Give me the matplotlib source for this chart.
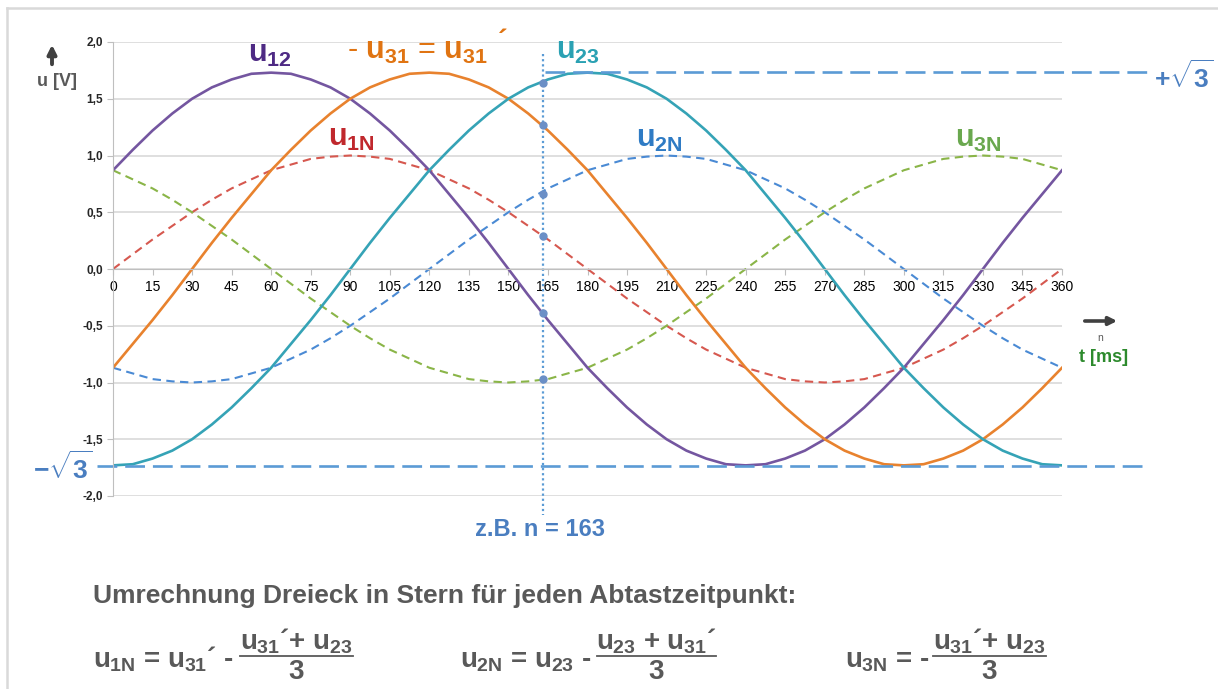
import matplotlib
matplotlib.use('Agg')
import matplotlib.pyplot as plt
from matplotlib import font_manager
from matplotlib.patches import FancyArrowPatch
from matplotlib.lines import Line2D

W, H = 1218, 689
names = {f.name for f in font_manager.fontManager.ttflist}
NARROW = 'Liberation Sans Narrow' if 'Liberation Sans Narrow' in names else 'Liberation Sans'

plt.rcParams['font.family'] = ['Liberation Sans', 'DejaVu Sans']
plt.rcParams['mathtext.fontset'] = 'custom'
for k in ('rm', 'it', 'bf', 'sf'):
    plt.rcParams['mathtext.' + k] = NARROW + ':bold'

# ---------------- data (every 7.5 samples) ----------------
n = [0, 7.5, 15, 22.5, 30, 37.5, 45, 52.5, 60, 67.5, 75, 82.5, 90,
     97.5, 105, 112.5, 120, 127.5, 135, 142.5, 150, 157.5, 165, 172.5, 180,
     187.5, 195, 202.5, 210, 217.5, 225, 232.5, 240, 247.5, 255, 262.5, 270,
     277.5, 285, 292.5, 300, 307.5, 315, 322.5, 330, 337.5, 345, 352.5, 360]
u12 = [0.87, 1.05, 1.22, 1.37, 1.50, 1.60, 1.67, 1.72, 1.73, 1.72, 1.67, 1.60, 1.50,
       1.37, 1.22, 1.05, 0.87, 0.66, 0.45, 0.23, 0.00, -0.23, -0.45, -0.66, -0.87,
       -1.05, -1.22, -1.37, -1.50, -1.60, -1.67, -1.72, -1.73, -1.72, -1.67, -1.60, -1.50,
       -1.37, -1.22, -1.05, -0.87, -0.66, -0.45, -0.23, 0.00, 0.23, 0.45, 0.66, 0.87]
u31p = [-0.87, -0.66, -0.45, -0.23, 0.00, 0.23, 0.45, 0.66, 0.87, 1.05, 1.22, 1.37, 1.50,
        1.60, 1.67, 1.72, 1.73, 1.72, 1.67, 1.60, 1.50, 1.37, 1.22, 1.05, 0.87,
        0.66, 0.45, 0.23, 0.00, -0.23, -0.45, -0.66, -0.87, -1.05, -1.22, -1.37, -1.50,
        -1.60, -1.67, -1.72, -1.73, -1.72, -1.67, -1.60, -1.50, -1.37, -1.22, -1.05, -0.87]
u23 = [-1.73, -1.72, -1.67, -1.60, -1.50, -1.37, -1.22, -1.05, -0.87, -0.66, -0.45, -0.23, 0.00,
       0.23, 0.45, 0.66, 0.87, 1.05, 1.22, 1.37, 1.50, 1.60, 1.67, 1.72, 1.73,
       1.72, 1.67, 1.60, 1.50, 1.37, 1.22, 1.05, 0.87, 0.66, 0.45, 0.23, 0.00,
       -0.23, -0.45, -0.66, -0.87, -1.05, -1.22, -1.37, -1.50, -1.60, -1.67, -1.72, -1.73]
u1N = [0.00, 0.13, 0.26, 0.38, 0.50, 0.61, 0.71, 0.79, 0.87, 0.92, 0.97, 0.99, 1.00,
       0.99, 0.97, 0.92, 0.87, 0.79, 0.71, 0.61, 0.50, 0.38, 0.26, 0.13, 0.00,
       -0.13, -0.26, -0.38, -0.50, -0.61, -0.71, -0.79, -0.87, -0.92, -0.97, -0.99, -1.00,
       -0.99, -0.97, -0.92, -0.87, -0.79, -0.71, -0.61, -0.50, -0.38, -0.26, -0.13, 0.00]
u2N = [-0.87, -0.92, -0.97, -0.99, -1.00, -0.99, -0.97, -0.92, -0.87, -0.79, -0.71, -0.61, -0.50,
       -0.38, -0.26, -0.13, 0.00, 0.13, 0.26, 0.38, 0.50, 0.61, 0.71, 0.79, 0.87,
       0.92, 0.97, 0.99, 1.00, 0.99, 0.97, 0.92, 0.87, 0.79, 0.71, 0.61, 0.50,
       0.38, 0.26, 0.13, 0.00, -0.13, -0.26, -0.38, -0.50, -0.61, -0.71, -0.79, -0.87]
u3N = [0.87, 0.79, 0.71, 0.61, 0.50, 0.38, 0.26, 0.13, 0.00, -0.13, -0.26, -0.38, -0.50,
       -0.61, -0.71, -0.79, -0.87, -0.92, -0.97, -0.99, -1.00, -0.99, -0.97, -0.92, -0.87,
       -0.79, -0.71, -0.61, -0.50, -0.38, -0.26, -0.13, 0.00, 0.13, 0.26, 0.38, 0.50,
       0.61, 0.71, 0.79, 0.87, 0.92, 0.97, 0.99, 1.00, 0.99, 0.97, 0.92, 0.87]
n_sample = 163
sample_vals = [1.64, 1.27, 0.66, 0.29, -0.39, -0.97]
sqrt3 = 1.732
xticks = [0, 15, 30, 45, 60, 75, 90, 105, 120, 135, 150, 165, 180,
          195, 210, 225, 240, 255, 270, 285, 300, 315, 330, 345, 360]
xtick_labels = [str(v) for v in xticks]
yticks = [-2.0, -1.5, -1.0, -0.5, 0.0, 0.5, 1.0, 1.5, 2.0]
ytick_labels = ['-2,0', '-1,5', '-1,0', '-0,5', '0,0', '0,5', '1,0', '1,5', '2,0']

# ---------------- figure ----------------
fig = plt.figure(figsize=(W / 100, H / 100), dpi=100)


def fx(x):
    return x / W


def fy(y):
    return 1 - y / H


# light frame (top and left edges only)
fig.add_artist(Line2D([fx(7), fx(1218)], [fy(8), fy(8)], transform=fig.transFigure,
                      color='#D9D9D9', lw=1.8))
fig.add_artist(Line2D([fx(7), fx(7)], [fy(8), fy(689)], transform=fig.transFigure,
                      color='#D9D9D9', lw=1.8))

ax = fig.add_axes([fx(113), fy(496), (1062 - 113) / W, (496 - 42) / H])
ax.set_xlim(0, 360)
ax.set_ylim(-2, 2)

dash_kw = dict(lw=1.5, dashes=(4, 2.6))
ax.plot(n, u1N, color='#D6584F', **dash_kw)
ax.plot(n, u2N, color='#4A8AD4', **dash_kw)
ax.plot(n, u3N, color='#8AB548', **dash_kw)
ax.plot(n, u12, color='#7456A0', lw=1.9)
ax.plot(n, u31p, color='#E8822E', lw=1.9)
ax.plot(n, u23, color='#35A3B6', lw=1.9)

ax.set_yticks(yticks)
ax.set_yticklabels(ytick_labels, fontsize=8.5, fontweight='bold', color='#262626')
ax.set_xticks(xticks)
ax.set_xticklabels(xtick_labels, fontsize=9, fontweight='bold', color='#262626')
ax.tick_params(axis='y', length=4, color='#BFBFBF', pad=3)
ax.tick_params(axis='x', length=4, color='#BFBFBF', pad=4)
for s in ('top', 'right'):
    ax.spines[s].set_visible(False)
ax.spines['bottom'].set_position(('data', 0))
ax.spines['bottom'].set_color('#BFBFBF')
ax.spines['left'].set_color('#BFBFBF')
ax.grid(axis='y', color='#D9D9D9', lw=1.2)
ax.set_axisbelow(True)

# sample line at n = 163
ax.plot([n_sample, n_sample], [1.89, -2.17], color='#5B9BD5', lw=1.6,
        ls=(0, (1, 1.3)), clip_on=False)
ax.plot([n_sample] * len(sample_vals), sample_vals, 'o', ms=5, color='#6B8FC6',
        zorder=5)

# +/- sqrt(3) dashed lines
ax.plot([164, 395], [sqrt3, sqrt3], color='#5B9BD5', lw=1.9, dashes=(7.5, 3),
        clip_on=False)
ax.plot([-6, 391], [-sqrt3, -sqrt3], color='#5B9BD5', lw=1.9, dashes=(7.5, 3),
        clip_on=False)

# ---------------- texts ----------------
blue = '#4A7EC0'
fig.text(fx(1184), fy(77), r'$+\sqrt{3}$', fontsize=19, color=blue,
         ha='center', va='center')
fig.text(fx(63), fy(468), r'$-\sqrt{3}$', fontsize=19, color=blue,
         ha='center', va='center')
fig.text(fx(540), fy(530), 'z.B. n = 163', fontsize=17, fontweight='bold',
         color=blue, ha='center', va='center')

# series labels
lab = dict(fontsize=22, ha='center', va='baseline')
fig.text(fx(270), fy(62), r'$u_{12}$', color='#4E2A84', **lab)
fig.text(fx(417), fy(59), r'- $u_{31}$ = $u_{31}$', color='#E07412', **lab)
fig.text(fx(503), fy(42), '´', color='#E07412', fontsize=21, fontweight='bold',
         ha='center', va='center')
fig.text(fx(578), fy(59), r'$u_{23}$', color='#2AA1B3', **lab)
fig.text(fx(351), fy(146), r'$u_{1N}$', color='#C0282D', **lab)
fig.text(fx(659), fy(147), r'$u_{2N}$', color='#2F7BC4', **lab)
fig.text(fx(978), fy(147), r'$u_{3N}$', color='#6AA84F', **lab)

# axis labels and arrows
gray = '#595959'
fig.text(fx(57), fy(82), 'u [V]', fontsize=13, fontweight='bold', color=gray,
         ha='center', va='center')
fig.add_artist(FancyArrowPatch((fx(52), fy(67)), (fx(52), fy(42)),
                               transform=fig.transFigure, arrowstyle='-|>',
                               mutation_scale=13, lw=2.8, color='#404040'))
fig.add_artist(FancyArrowPatch((fx(1082), fy(321)), (fx(1120), fy(321)),
                               transform=fig.transFigure, arrowstyle='-|>',
                               mutation_scale=12, lw=2.6, color='#404040'))
fig.text(fx(1100), fy(338), 'n', fontsize=7.5, color=gray, ha='center', va='center')
fig.text(fx(1104), fy(358), 't [ms]', fontsize=13, fontweight='bold',
         color='#2D8A2D', ha='center', va='center')

# bottom text
fig.text(fx(93), fy(603), 'Umrechnung Dreieck in Stern für jeden Abtastzeitpunkt:',
         fontsize=19, fontweight='bold', color=gray, ha='left', va='baseline')

fkw = dict(fontsize=20, color=gray, family=NARROW, fontweight='bold')


def formula(x_left, lhs, x0, x1, num):
    fig.text(fx(x_left), fy(667), lhs, ha='left', va='baseline', **fkw)
    xc = (x0 + x1) / 2
    fig.text(fx(xc), fy(650), num, ha='center', va='baseline', **fkw)
    fig.add_artist(Line2D([fx(x0), fx(x1)], [fy(656), fy(656)],
                          transform=fig.transFigure, color=gray, lw=1.3))
    fig.text(fx(xc), fy(679), '3', ha='center', va='baseline', **fkw)


formula(93, r'$u_{1N}$ = $u_{31}$´ -', 240, 353, r'$u_{31}$´+ $u_{23}$')
formula(460, r'$u_{2N}$ = $u_{23}$ -', 597, 716, r'$u_{23}$ + $u_{31}$´')
formula(845, r'$u_{3N}$ = -', 933, 1046, r'$u_{31}$´+ $u_{23}$')

fig.savefig('out.png', dpi=100)
